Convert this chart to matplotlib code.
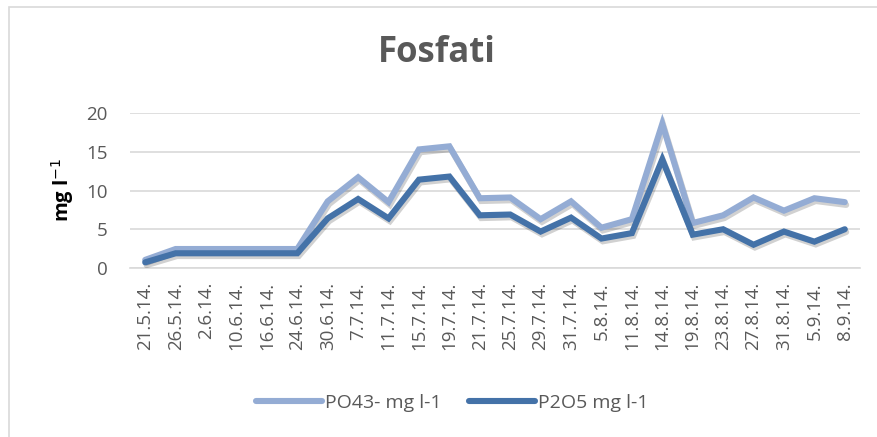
import matplotlib
matplotlib.use("Agg")
import matplotlib.pyplot as plt
import matplotlib.patheffects as pe
import numpy as np

# data
dates = ["21.5.14.", "26.5.14.", "2.6.14.", "10.6.14.", "16.6.14.", "24.6.14.",
         "30.6.14.", "7.7.14.", "11.7.14.", "15.7.14.", "19.7.14.", "21.7.14.",
         "25.7.14.", "29.7.14.", "31.7.14.", "5.8.14.", "11.8.14.", "14.8.14.",
         "19.8.14.", "23.8.14.", "27.8.14.", "31.8.14.", "5.9.14.", "8.9.14."]
po43 = [1.05, 2.45, 2.45, 2.45, 2.45, 2.45, 8.6, 11.7, 8.5, 15.3, 15.7, 9.0,
        9.1, 6.3, 8.6, 5.2, 6.3, 18.6, 5.8, 6.8, 9.1, 7.4, 9.0, 8.5]
p2o5 = [0.73, 1.9, 1.9, 1.9, 1.9, 1.9, 6.4, 8.9, 6.4, 11.4, 11.8, 6.8,
        6.9, 4.7, 6.5, 3.8, 4.5, 14.0, 4.3, 5.0, 3.0, 4.7, 3.4, 5.0]

light = "#94ACD4"
dark = "#4472A8"
grey = "#595959"
plt.rcParams['font.family'] = ["Open Sans", "DejaVu Sans"]

fig = plt.figure(figsize=(8.77, 4.37), dpi=100)
ax = fig.add_axes([130/877, 1-268/437, 730/877, 155/437])

# outer chart border
fig.patches.append(plt.Rectangle((9/877, -0.1), 1.0, 1-7/437+0.1, transform=fig.transFigure,
                                 fill=False, edgecolor="#D9D9D9", lw=1.2))

x = np.arange(len(dates))
shadow = [pe.SimpleLineShadow(offset=(1, -2), alpha=0.18, shadow_color="k"), pe.Normal()]
ax.plot(x, po43, color=light, lw=4.4, solid_capstyle="round", solid_joinstyle="miter",
        label="PO43- mg l-1", path_effects=shadow, zorder=3)
ax.plot(x, p2o5, color=dark, lw=4.4, solid_capstyle="round", solid_joinstyle="miter",
        label="P2O5 mg l-1", path_effects=shadow, zorder=4)

ax.set_xlim(-0.5, len(dates) - 0.5)
ax.set_ylim(0, 20)
ax.set_yticks([0, 5, 10, 15, 20])
ax.yaxis.grid(True, color="#D9D9D9", lw=1.2)
ax.set_axisbelow(True)
for s in ["top", "right", "left"]:
    ax.spines[s].set_visible(False)
ax.spines["bottom"].set_color("#D9D9D9")
ax.spines["bottom"].set_linewidth(1.2)
ax.tick_params(axis="y", length=0, pad=16, labelsize=13.5, labelcolor=grey)
ax.tick_params(axis="x", length=0, pad=10, labelsize=13.5, labelcolor=grey)
ax.set_xticks(x)
ax.set_xticklabels(dates, rotation=90)

fig.text(63/877, 1-190/437, "mg l$^{-1}$", rotation=90, ha="center", va="center",
         fontsize=14.5, fontweight="bold")
fig.text(437/877, 1-53/437, "Fosfati", ha="center", va="center",
         fontsize=25, fontweight="bold", color=grey)

leg = fig.legend(loc="center", bbox_to_anchor=(452/877, 1-403/437), ncol=2, frameon=False,
                 fontsize=14, handlelength=3.4, handletextpad=0.15, columnspacing=1.4)
for t in leg.get_texts():
    t.set_color(grey)
for h in leg.legend_handles:
    h.set_path_effects([])
    h.set_linewidth(4.4)

fig.savefig("out.png", dpi=100)
